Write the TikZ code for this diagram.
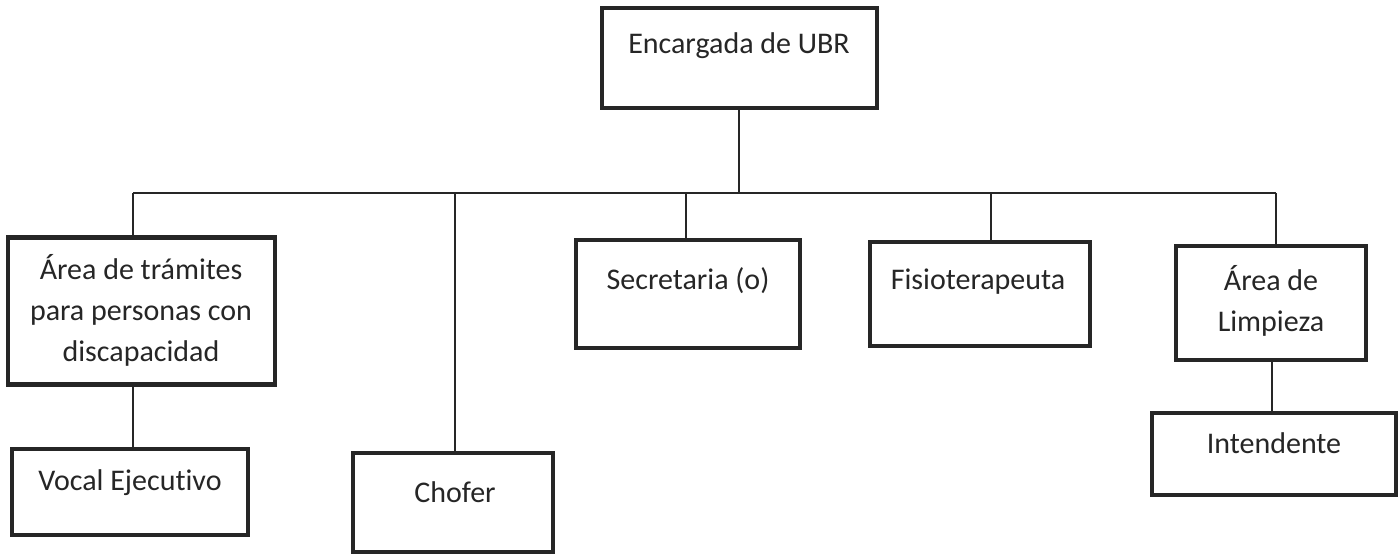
\documentclass[tikz,border=0pt]{standalone}
\usepackage{fontspec}
\setmainfont[Ligatures=NoCommon]{Carlito}
\begin{document}
\begin{tikzpicture}[x=0.5pt,y=-0.5pt,
  box/.style={draw=black!85, line width=2.4pt, fill=white, inner sep=0pt},
  lbl/.style={anchor=base, align=center, font=\fontsize{15pt}{20.5pt}\selectfont, text=black!85, inner sep=0pt},
  conn/.style={draw=black!85, line width=0.8pt}]
\useasboundingbox (0,0) rectangle (1399,556);
% boxes
\node[box, minimum width=275pt*0.5, minimum height=100pt*0.5] (enc) at (739.5,58) {};
\node[box, minimum width=267pt*0.5, minimum height=147pt*0.5] (tram) at (141.5,311) {};
\node[box, minimum width=236pt*0.5, minimum height=86pt*0.5] (voc) at (130,492) {};
\node[box, minimum width=200pt*0.5, minimum height=99pt*0.5] (cho) at (453,502.5) {};
\node[box, minimum width=224pt*0.5, minimum height=108pt*0.5] (sec) at (688,294) {};
\node[box, minimum width=220pt*0.5, minimum height=104pt*0.5] (fis) at (980,294) {};
\node[box, minimum width=190pt*0.5, minimum height=114pt*0.5] (lim) at (1271,303) {};
\node[box, minimum width=244pt*0.5, minimum height=82pt*0.5] (int) at (1274,454) {};
% texts (anchor=base = baseline of the last line)
\node[lbl] at (739,54) {Encargada de UBR};
\node[lbl] at (141,361) {Área de trámites\\para personas con\\discapacidad};
\node[lbl] at (130,490) {Vocal Ejecutivo};
\node[lbl] at (455,502) {Chofer};
\node[lbl] at (688,289) {Secretaria (o)};
\node[lbl] at (978,289) {Fisioterapeuta};
\node[lbl] at (1271,331) {Área de\\Limpieza};
\node[lbl] at (1274,453) {Intendente};
% connectors
\coordinate (bus) at (739,193);
\coordinate (busL) at (133,193);
\coordinate (busR) at (1276,193);
\draw[conn] (enc.south -| bus) -- (bus);
\draw[conn] (busL) -- (busR);
\draw[conn] (busL) -- (busL |- tram.north);
\draw[conn] (455,193) -- (455,193 |- cho.north);
\draw[conn] (686,193) -- (686,193 |- sec.north);
\draw[conn] (991,193) -- (991,193 |- fis.north);
\draw[conn] (busR) -- (busR |- lim.north);
\draw[conn] (133,0 |- tram.south) -- (133,0 |- voc.north);
\draw[conn] (1272,0 |- lim.south) -- (1272,0 |- int.north);
\end{tikzpicture}
\end{document}
